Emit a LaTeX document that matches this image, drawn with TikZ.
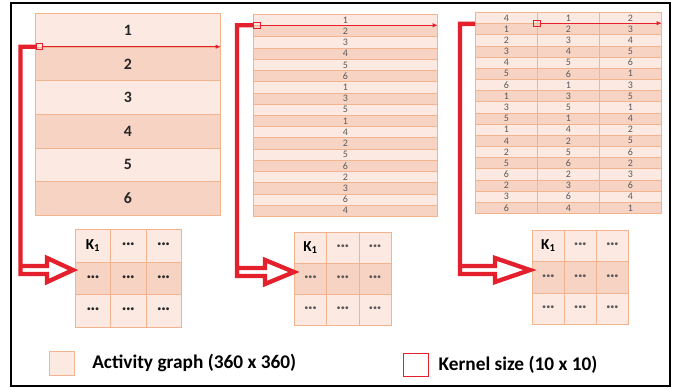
\documentclass[tikz,border=0pt]{standalone}
\usepackage{fontspec}
\setmainfont{Carlito}
\usetikzlibrary{positioning,calc,arrows.meta}

\definecolor{celllight}{HTML}{FBE9E2}
\definecolor{celldark}{HTML}{F7D3C4}
\definecolor{cellline}{HTML}{F2B48E}
\definecolor{kernelred}{HTML}{E3202B}
\definecolor{numgray}{HTML}{5A5A5A}
\colorlet{shade1}{celllight}
\colorlet{shade0}{celldark}

\tikzset{
  cell/.style={draw=cellline, line width=0.6pt, inner sep=0pt, anchor=north west},
  bigrow/.style={cell, minimum width=5.55cm, minimum height=1.01cm,
    font=\fontsize{13.5}{14}\selectfont\bfseries, text=black!85},
  thinrow/.style={cell, minimum width=5.52cm, minimum height=0.3367cm,
    font=\fontsize{8.5}{9}\selectfont, text=numgray},
  colrow/.style={cell, minimum width=1.86cm, minimum height=0.335cm,
    font=\fontsize{8.5}{9}\selectfont, text=numgray},
  kcell/.style={cell, font=\fontsize{13}{14}\selectfont\bfseries},
  marker/.style={draw=kernelred, line width=0.6pt, minimum size=0.19cm, inner sep=0pt},
  scanline/.style={draw=kernelred, line width=0.7pt, -{Latex[length=0.15cm,width=0.13cm]}},
  kpath/.style={draw=kernelred, line width=0.13cm, line join=miter},
  legtext/.style={font=\fontsize{16.5}{18}\selectfont\bfseries, inner sep=0pt, anchor=west}
}

\begin{document}
\begin{tikzpicture}[x=0.03cm, y=-0.03cm]
  \useasboundingbox (0,0) rectangle (683,389);
  \draw[line width=0.075cm] (11,3) rectangle (670,386);

  % activity graph, 6 rows
  \foreach \n [count=\i] in {1,...,6} {
    \pgfmathtruncatemacro{\k}{mod(\i,2)}
    \node[bigrow, fill=shade\k] (t1-\i) at (35,{13+(\i-1)*33.67}) {\n};
  }
  % activity graph, 18 rows
  \foreach \n [count=\i] in {1,2,3,4,5,6,1,3,5,1,4,2,5,6,2,3,6,4} {
    \pgfmathtruncatemacro{\k}{mod(\i,2)}
    \node[thinrow, fill=shade\k] (t2-\i) at (253,{14+(\i-1)*11.22}) {\n};
  }
  % activity graph, 18 rows x 3 columns
  \foreach \a/\b/\c [count=\i] in {4/1/2,1/2/3,2/3/4,3/4/5,4/5/6,5/6/1,6/1/3,1/3/5,3/5/1,
      5/1/4,1/4/2,4/2/5,2/5/6,5/6/2,6/2/3,2/3/6,3/6/4,6/4/1} {
    \pgfmathtruncatemacro{\k}{mod(\i,2)}
    \node[colrow, fill=shade\k] (t3-\i-1) at (475,{12+(\i-1)*11.17}) {\a};
    \node[colrow, fill=shade\k] (t3-\i-2) at (537,{12+(\i-1)*11.17}) {\b};
    \node[colrow, fill=shade\k] (t3-\i-3) at (599,{12+(\i-1)*11.17}) {\c};
  }

  % kernels
  \foreach \g/\gx/\gy/\w/\h/\col in {1/75/229/35.3/32.7/black!85, 2/294/232/32.3/31/numgray,
      3/532/230/32/31.3/numgray} {
    \pgfmathsetmacro{\kw}{\w*0.03}
    \pgfmathsetmacro{\kh}{\h*0.03}
    \foreach \r in {1,2,3} {
      \foreach \c in {1,2,3} {
        \pgfmathtruncatemacro{\k}{\r==2 ? 0 : 1}
        \node[kcell, fill=shade\k, minimum width=\kw cm, minimum height=\kh cm]
          (k\g-\r-\c) at ({\gx+(\c-1)*\w},{\gy+(\r-1)*\h})
          {\ifnum\r\c=11 K\textsubscript{1}\else\textcolor{\col}{···}\fi};
      }
    }
  }

  % kernel markers and scan lines
  \node[marker, xshift=0.14cm] (m1) at (t1-2.north west) {};
  \node[marker, xshift=0.12cm] (m2) at (t2-2.north west) {};
  \node[marker] (m3) at (t3-2-2.north west) {};
  \draw[scanline] (m1.east) -- (t1-2.north east);
  \draw[scanline] (m2.east) -- (t2-2.north east);
  \draw[scanline] (m3.east) -- (t3-2-3.north east);

  % hollow arrows down to the kernels
  \foreach \s/\xv/\tx/\ty/\hb in {m1.west/20.5/73/270/47, m2.west/237/294/272/265,
      t3-1-1.south west/460/530/270/495} {
    \draw[kpath] (\s) -| (\xv,\ty+4) -- (\hb,\ty+4) -- (\hb,\ty+12) -- (\tx,\ty)
      -- (\hb,\ty-12) -- (\hb,\ty-4) -- (\xv,\ty-4);
  }

  % legend
  \node[cell, fill=celllight, minimum width=0.75cm, minimum height=0.72cm] (lgact) at (49,351) {};
  \node[legtext, right=0.52cm of lgact] (lgacttext) {Activity graph (360 x 360)};
  \node[draw=kernelred, line width=1.2pt, minimum width=0.75cm, minimum height=0.69cm,
    anchor=north west] (lgker) at (403,353) {};
  \node[legtext, right=0.27cm of lgker] (lgkertext) {Kernel size (10 x 10)};
\end{tikzpicture}
\end{document}
